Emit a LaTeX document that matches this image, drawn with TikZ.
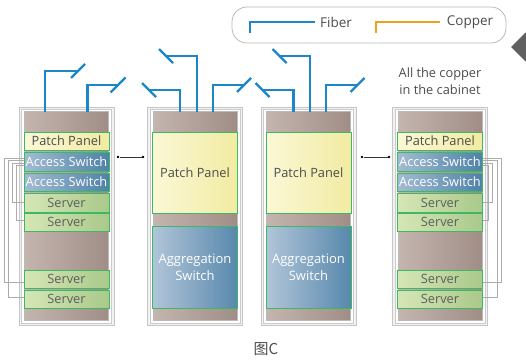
\documentclass[tikz,border=0pt]{standalone}
\usepackage{fontspec}
\setmainfont{Open Sans}
\newfontfamily\cjk{Noto Sans CJK SC}
\usetikzlibrary{calc}
\definecolor{fiberc}{HTML}{1B87C9}
\definecolor{copperc}{HTML}{F0A020}
\definecolor{brownL}{HTML}{C4B5AF}
\definecolor{brownR}{HTML}{A08E86}
\definecolor{ppL}{HTML}{FBF8D6}
\definecolor{ppR}{HTML}{F1EBA2}
\definecolor{asL}{HTML}{A3BBD2}
\definecolor{asR}{HTML}{4F82A8}
\definecolor{svL}{HTML}{D6E6B6}
\definecolor{svR}{HTML}{A9C98A}
\definecolor{edgeg}{HTML}{3DB865}
\definecolor{txtg}{HTML}{4C4C4C}
\tikzset{
  modbase/.style={inner sep=0pt, outer sep=0pt, draw=edgeg, line width=0.9pt, font=\fontsize{12.8}{14}\selectfont},
  ppbox/.style={modbase, left color=ppL, right color=ppR, text=txtg},
  asbox/.style={modbase, left color=asL, right color=asR, text=white},
  svbox/.style={modbase, left color=svL, right color=svR, text=txtg!90},
  agbox/.style={modbase, left color=asL!85!white, right color=asR!95!white, text=white, align=center, font=\fontsize{13}{17}\selectfont},
  frameout/.style={inner sep=0pt, outer sep=0pt, draw=gray!45, fill=gray!10, line width=0.8pt},
  framemid/.style={inner sep=0pt, outer sep=0pt, draw=gray!40, fill=white, line width=0.6pt},
  framein/.style={inner sep=0pt, outer sep=0pt, draw=gray!55, left color=brownL, right color=brownR, line width=0.6pt},
  fiber/.style={draw=fiberc, line width=2.4pt},
  cu/.style={draw=gray!65, line width=0.6pt},
  dotn/.style={circle, fill=black, inner sep=0pt, minimum size=2.6pt},
  link/.style={draw=black!80, line width=0.5pt}
}
\newcommand\modbox[7]{%
  \node[#1, minimum width={((#5)-(#3))*1pt}, minimum height={((#6)-(#4))*1pt}] (#2) at ({((#3)+(#5))/2},{((#4)+(#6))/2}) {#7};}
% cabinet frame: name, left x of modules
\newcommand\cabframe[2]{%
  \modbox{frameout}{#1out}{#2-5}{107}{#2+90}{325.5}{}
  \modbox{framemid}{#1mid}{#2-2.5}{109.5}{#2+87.5}{323}{}
  \modbox{framein}{#1in}{#2+0.5}{111.5}{#2+84.5}{320}{}}
\newcommand\edgecab[2]{%
  \cabframe{#1}{#2}
  \modbox{ppbox}{#1pp}{#2}{132}{#2+85}{150}{Patch Panel}
  \modbox{asbox}{#1asa}{#2}{152}{#2+85}{171}{Access Switch}
  \modbox{asbox}{#1asb}{#2}{173}{#2+85}{191}{Access Switch}
  \modbox{svbox}{#1sa}{#2}{193}{#2+85}{212}{Server}
  \modbox{svbox}{#1sb}{#2}{213.5}{#2+85}{231}{Server}
  \modbox{svbox}{#1sc}{#2}{270}{#2+85}{288}{Server}
  \modbox{svbox}{#1sd}{#2}{290}{#2+85}{308}{Server}}
\newcommand\aggcab[2]{%
  \cabframe{#1}{#2}
  \modbox{ppbox}{#1pp}{#2}{132}{#2+85}{213}{Patch Panel}
  \modbox{agbox}{#1ag}{#2}{226}{#2+85}{308}{Aggregation\\Switch}
  % fibers
  \draw[fiber] (#2+27.5,112) |- (#2-3.5,90);
  \draw[fiber] (#2-10.5,83) -- (#2+3.5,97);
  \draw[fiber] (#2+44.2,112) |- (#2+13.5,56);
  \draw[fiber] (#2+6.5,49) -- (#2+20.5,63);
  \draw[fiber] (#2+60.2,112) |- (#2+91.5,85);
  \draw[fiber] (#2+84.5,92) -- (#2+98.5,78);}
\begin{document}
\begin{tikzpicture}[x=1pt,y=-1pt]
\useasboundingbox (0,0) rectangle (526,361);
% legend
\node[draw=gray!55, line width=0.8pt, rounded corners=15pt, minimum width=274pt, minimum height=36pt, inner sep=0pt] (legend) at (369,25) {};
\draw[fiber, line width=2pt] (250,33) |- (315,22);
\node[font=\fontsize{13.5}{15}\selectfont, text=txtg] (lfiber) at (336,22) {Fiber};
\draw[draw=copperc, line width=2pt] (376,33) |- (440,22);
\node[font=\fontsize{13.5}{15}\selectfont, text=txtg] (lcopper) at (470,22) {Copper};
\fill[gray!75!black] (511,47) -- (526,32) -- (526,62) -- cycle;
% cabinets
\edgecab{ca}{24}
\aggcab{cb}{152.5}
\aggcab{cc}{266}
\edgecab{cd}{397.5}
% fibers cabinet 1
\draw[fiber] (44.7,112) |- (78,70.7);
\draw[fiber] (71,78) -- (85,64);
\draw[fiber] (87.3,112) |- (118,85);
\draw[fiber] (110.5,92.5) -- (125.5,77.5);
% note
\node[font=\fontsize{12.8}{16.5}\selectfont, text=txtg, align=center] (note) at (440,81) {All the copper\\in the cabinet};
% dotted links
\node[dotn] (d1) at (118,157) {};
\node[dotn] (d2) at (143,157) {};
\draw[link] (d1) -- (d2);
\node[dotn] (d3) at (362,157) {};
\node[dotn] (d4) at (389,157) {};
\draw[link] (d3) -- (d4);
% copper lines cabinet 1 (left)
\draw[cu] ($(caasa.west)+(0,-3.5)$) -| (4,282) -- ($(casc.west)+(0,3)$);
\draw[cu] ($(caasa.west)+(0,-1)$) -| (8,297) -- ($(casd.west)+(0,-2)$);
\draw[cu] ($(caasa.west)+(0,1.5)$) -| (12.7,202) -- ($(casa.west)+(0,-0.5)$);
\draw[cu] ($(caasa.west)+(0,4)$) -| (16.7,220) -- ($(casb.west)+(0,-2.25)$);
% copper lines cabinet 4 (right)
\draw[cu] ($(cdasa.east)+(0,-3.5)$) -| (501,282) -- ($(cdsc.east)+(0,3)$);
\draw[cu] ($(cdasa.east)+(0,-1)$) -| (497,297) -- ($(cdsd.east)+(0,-2)$);
\draw[cu] ($(cdasa.east)+(0,1.5)$) -| (492,202) -- ($(cdsa.east)+(0,-0.5)$);
\draw[cu] ($(cdasa.east)+(0,4)$) -| (488,220) -- ($(cdsb.east)+(0,-2.25)$);
% caption
\node[font=\cjk\fontsize{15}{17}\selectfont, text=txtg] (cap) at (266,349) {图C};
\end{tikzpicture}
\end{document}
